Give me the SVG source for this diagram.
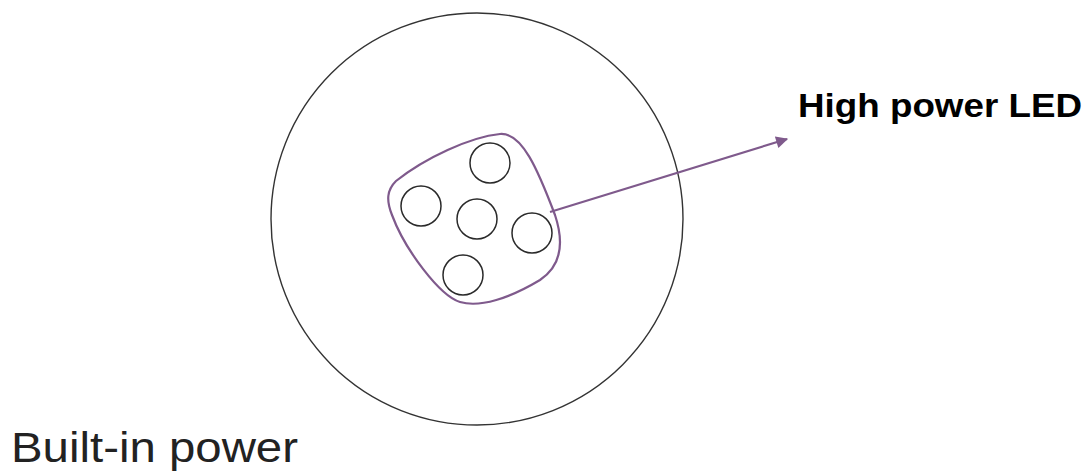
<svg xmlns="http://www.w3.org/2000/svg" width="1092" height="473" viewBox="0 0 1092 473">
<style>
.outline{fill:none;stroke:#333;stroke-width:1.4}
.led{fill:none;stroke:#2a2a2a;stroke-width:1.5}
.purple{fill:none;stroke:#7f5a8c;stroke-width:2.2}
.lbl{font-family:"Liberation Sans",Arial,sans-serif}
</style>
<defs>
<marker id="ah" viewBox="0 0 10 10" refX="9" refY="5" markerWidth="6" markerHeight="5.5" orient="auto" markerUnits="strokeWidth">
<path d="M0,0 L10,5 L0,10 Z" fill="#7f5a8c"/>
</marker>
</defs>
<rect width="1092" height="473" fill="#fff"/>
<g id="lamp">
<circle class="outline" cx="477" cy="219" r="206"/>
</g>
<g id="led-cluster">
<path class="purple" d="M396,181 C425,158 470,137 500,134 C522,132 538,170 555,215 C566,248 558,268 540,280 C510,298 480,308 460,302 C440,296 405,250 392,215 C386,200 387,190 396,181 Z"/>
<circle class="led" cx="490" cy="163" r="20"/>
<circle class="led" cx="421" cy="206" r="20"/>
<circle class="led" cx="477" cy="219" r="20"/>
<circle class="led" cx="532" cy="233" r="20"/>
<circle class="led" cx="463" cy="275" r="20"/>
</g>
<g id="connectors">
<line class="purple" x1="550" y1="212" x2="787" y2="139" marker-end="url(#ah)"/>
</g>
<g id="label-led">
<text class="lbl" x="798" y="117" font-size="33" font-weight="bold" fill="#000" textLength="284" lengthAdjust="spacingAndGlyphs">High power LED</text>
</g>
<g id="label-power">
<text class="lbl" x="11" y="462" font-size="42" fill="#222" textLength="287" lengthAdjust="spacingAndGlyphs">Built-in power</text>
</g>
</svg>
